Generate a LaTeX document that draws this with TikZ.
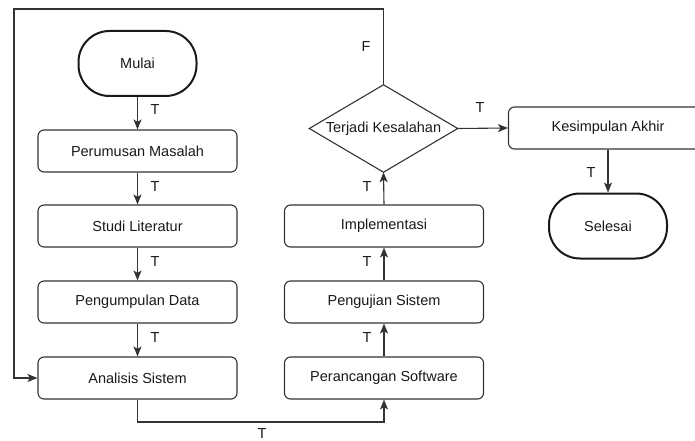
\documentclass[tikz,border=0pt]{standalone}
\usepackage{fontspec}
\setmainfont{Liberation Sans}
\usetikzlibrary{arrows.meta,positioning}
\begin{document}
\begin{tikzpicture}[x=1pt,y=-1pt,
  every node/.style={font=\fontsize{14.5}{17}\selectfont, text=black!90},
  box/.style={draw=black!80, line width=1.1pt, rounded corners=6pt, minimum width=199pt, minimum height=42pt, inner sep=0pt},
  term/.style={draw=black!90, line width=2pt, rounded corners=31pt, minimum width=118pt, minimum height=65pt, inner sep=0pt},
  conn/.style={draw=black!80, line width=1.1pt, -{Stealth[length=10pt,width=8pt,inset=2.5pt]}},
  lab/.style={inner sep=0pt}
]
\useasboundingbox (0,0) rectangle (695,441);
\begin{scope}
\clip (0,0) rectangle (695,441);
% left column
\node[term] (mulai) at (137.5,63.5) {Mulai};
\node[box] (rumus) at (137.5,151) {Perumusan Masalah};
\node[box] (studi) at (137.5,226) {Studi Literatur};
\node[box] (kumpul) at (137.5,302) {Pengumpulan Data};
\node[box] (analisis) at (137.5,378) {Analisis Sistem};
% right column
\node[box] (rancang) at (384,378) {Perancangan Software};
\node[box] (uji) at (384,302) {Pengujian Sistem};
\node[box] (impl) at (384,226) {Implementasi};
\node[minimum width=148pt, minimum height=87pt, inner sep=0pt] (dec) at (383.5,128.5) {Terjadi Kesalahan};
\draw[draw=black!80, line width=1.1pt] (dec.north) -- (dec.east) -- (dec.south) -- (dec.west) -- cycle;
\node[box] (akhir) at (608,128) {Kesimpulan Akhir};
\node[term] (selesai) at (608,226) {Selesai};
% helper coordinates
\coordinate (top) at (383.5,9);
\coordinate (lft) at (14,9);
\coordinate (bot) at (137.5,422);
% connectors
\draw[conn] (mulai) -- (rumus);
\draw[conn] (rumus) -- (studi);
\draw[conn] (studi) -- (kumpul);
\draw[conn] (kumpul) -- (analisis);
\draw[conn] (analisis.south) -- (bot) -| (rancang.south);
\draw[conn] (rancang) -- (uji);
\draw[conn] (uji) -- (impl);
\draw[conn] (impl.north) -- (dec.south);
\draw[conn] (dec.north) -- (top) -- (lft) |- (analisis.west);
\draw[conn] (dec.east) -- (akhir.west);
\draw[conn] (akhir) -- (selesai);
% labels
\node[lab] (t1) at (155,110) {T};
\node[lab] (t2) at (155,187) {T};
\node[lab] (t3) at (155,262) {T};
\node[lab] (t4) at (155,338) {T};
\node[lab] (t5) at (262,433.5) {T};
\node[lab] (t6) at (367,338) {T};
\node[lab] (t7) at (367,262) {T};
\node[lab] (t8) at (367,187) {T};
\node[lab] (f1) at (366,47) {F};
\node[lab] (t9) at (480,108) {T};
\node[lab] (t10) at (591,173) {T};
\end{scope}
\end{tikzpicture}
\end{document}
